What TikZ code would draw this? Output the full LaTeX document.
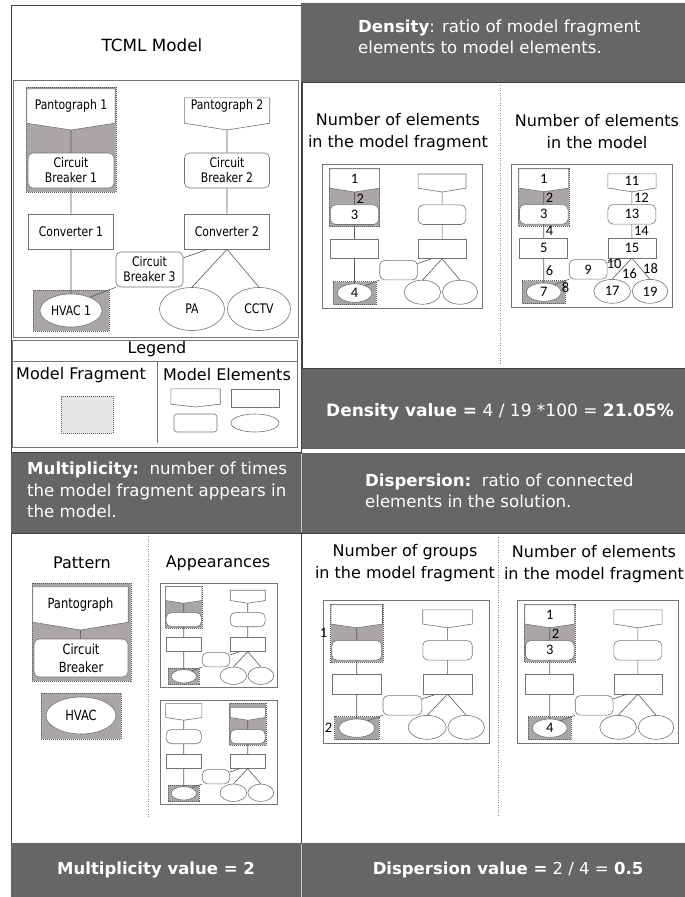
\documentclass[tikz,border=0pt]{standalone}
\usepackage{fontspec}
\setmainfont{DejaVu Sans}
\newfontfamily\elfont{DejaVu Sans}[FakeStretch=0.82]
\newfontfamily\numfont{Carlito}
\usepackage{tikz}
\usetikzlibrary{positioning}
\usetikzlibrary{calc,shapes.geometric}
\definecolor{hdrgray}{RGB}{102,102,102}
\definecolor{fraggray}{RGB}{170,166,166}
\definecolor{leggray}{RGB}{230,230,230}
\tikzset{
  panel/.style = {draw=black!75, fill=white, line width=0.8pt},
  hdrbar/.style = {fill=hdrgray},
  sepline/.style = {draw=black!20, line width=0.8pt},
  hdrtext/.style = {text=white, align=left, inner sep=0pt,
    font=\fontsize{16.6}{21.5}\selectfont},
  valtext/.style = {text=white, inner sep=0pt,
    font=\fontsize{16.5}{20}\selectfont},
  title/.style = {align=center, inner sep=0pt,
    font=\fontsize{16}{22}\selectfont},
  mframe/.style = {draw=black!55, fill=white, line width=0.6pt},% frame of a model
  frag/.style = {draw=black!65, fill=fraggray, inner sep=0pt,
    dash pattern=on 1pt off 1pt, line width=0.6pt},% model fragment
  elem/.style = {draw=black!55, fill=white, inner sep=0pt, line width=0.6pt},
  pgbox/.style = {inner sep=0pt},% pantograph, outline drawn by hand
  cbbox/.style = {elem, rounded corners=5pt},% circuit breaker
  cvbox/.style = {elem},% converter
  hvbox/.style = {elem, ellipse},% hvac, pa, cctv
  conn/.style = {draw=black!65, line width=0.6pt},
  divider/.style = {draw=black!45, dash pattern=on 1pt off 1.5pt, line width=0.5pt},
  ellabel/.style = {align=center, inner sep=0pt,
    font=\elfont\fontsize{13.2}{15}\selectfont},
  num/.style = {inner sep=0pt, font=\numfont\fontsize{14.5}{14.5}\selectfont}
}

% #1 prefix, #2 #3 top left corner, #4 #5 scale, #6 shift of the upper fragment
\newcommand{\tcmlmodel}[6]{%
\begin{scope}[shift={(#2,#3)}, xscale=#4, yscale=#5, transform shape]
  \draw[mframe] (0,0) rectangle (285,257);
  % model fragment
  \node[frag, minimum width=90pt, minimum height=105pt] (#1fa) at (58+#6,59.5) {};
  \node[frag, minimum width=76pt, minimum height=41pt] (#1fb) at (58,230.5) {};
  % left branch
  \node[pgbox, minimum width=88pt, minimum height=34pt] (#1pg1) at (58,26) {};
  \coordinate (#1ap1) at (58,50);
  \draw[elem] (#1pg1.north west) -- (#1pg1.north east) -- (#1pg1.south east)
    -- (#1ap1) -- (#1pg1.south west) -- cycle;
  \node[cbbox, minimum width=86pt, minimum height=35pt] (#1cb1) at (58,90.5) {};
  \node[cvbox, minimum width=85pt, minimum height=35pt] (#1cv1) at (58,151.5) {};
  \node[hvbox, minimum width=62pt, minimum height=33pt] (#1hv1) at (58,230.5) {};
  \node[cbbox, minimum width=67pt, minimum height=35pt] (#1cb3) at (136.5,189.5) {};
  % right branch
  \node[pgbox, minimum width=85pt, minimum height=25pt] (#1pg2) at (214,30.5) {};
  \coordinate (#1ap2) at (214,50);
  \draw[elem] (#1pg2.north west) -- (#1pg2.north east) -- (#1pg2.south east)
    -- (#1ap2) -- (#1pg2.south west) -- cycle;
  \node[cbbox, minimum width=85pt, minimum height=35pt] (#1cb2) at (214,90.5) {};
  \node[cvbox, minimum width=85pt, minimum height=35pt] (#1cv2) at (214,151.5) {};
  \node[hvbox, minimum width=65pt, minimum height=43pt] (#1pa) at (179,229) {};
  \node[hvbox, minimum width=63pt, minimum height=43pt] (#1cc) at (246,229) {};
  \draw[conn] (#1ap1) -- (#1cb1) (#1cb1) -- (#1cv1) (#1cv1) -- (#1hv1)
    (#1ap2) -- (#1cb2) (#1cb2) -- (#1cv2)
    (#1cv2.south) -- (#1pa.north) (#1cv2.south) -- (#1cc.north)
    (#1hv1.35) -- (#1cb3.south west) (#1cb3.19) -- (#1cv2.223);
\end{scope}}

% numbers of the fragment elements
\newcommand{\fragnumbers}[1]{%
  \node[num] (#1n1) at (#1pg1) {1};
  \node[num, anchor=west, xshift=2pt] (#1n2) at ($(#1ap1)!0.5!(#1cb1.north)$) {2};
  \node[num] (#1n3) at (#1cb1) {3};
  \node[num] (#1n4) at (#1hv1) {4};
}

\begin{document}
\begin{tikzpicture}[x=1pt, y=-1pt]
\useasboundingbox (0,0) rectangle (685,897);

% panels
\draw[panel] (11,5) rectangle (301,452);
\fill[hdrbar] (301,3) rectangle (685,82);
\draw[panel] (302,82) rectangle (690,368);
\fill[hdrbar] (302,369) rectangle (685,449);
\fill[hdrbar] (11,453) rectangle (685,533);
\draw[panel] (11,533) rectangle (301,843);
\draw[panel] (301,533) rectangle (690,843);
\fill[hdrbar] (11,843) rectangle (685,897);
\draw[sepline] (301,454) -- (301,532) (301,844) -- (301,897);

% TCML model
\node[title, font=\fontsize{16.8}{22}\selectfont] (tcml) at (152,45) {TCML Model};
\tcmlmodel{m}{13}{80}{1}{1}{0}
\node[ellabel] (mpg1t) at (mpg1) {Pantograph 1};
\node[ellabel] (mpg2t) at (mpg2 |- mpg1) {Pantograph 2};
\node[ellabel] (mcb1t) at (mcb1) {Circuit\\Breaker 1};
\node[ellabel] (mcb2t) at (mcb2) {Circuit\\Breaker 2};
\node[ellabel] (mcb3t) at (mcb3) {Circuit\\Breaker 3};
\node[ellabel] (mcv1t) at (mcv1) {Converter 1};
\node[ellabel] (mcv2t) at (mcv2) {Converter 2};
\node[ellabel] (mhv1t) at (mhv1) {HVAC 1};
\node[ellabel] (mpat) at (mpa) {PA};
\node[ellabel] (mcct) at (mcc) {CCTV};

% legend
\draw[mframe] (12,340) rectangle (297,447);
\draw[mframe] (12,361) -- (297,361) (157,361) -- (157,443);
\node[title] (leg) at (157,349) {Legend};
\node[title] (legf) at (81,375) {Model Fragment};
\node[title] (lege) at (227,375) {Model Elements};
\node[frag, fill=leggray, minimum width=52pt, minimum height=37pt] (lfrag) at (87,414.5) {};
\node[pgbox, minimum width=49pt, minimum height=15pt] (lpg) at (195.5,396.5) {};
\coordinate (lap) at (195.5,407);
\draw[elem] (lpg.north west) -- (lpg.north east) -- (lpg.south east)
  -- (lap) -- (lpg.south west) -- cycle;
\node[cvbox, minimum width=48pt, minimum height=18pt] (lcv) at (255,398) {};
\node[cbbox, rounded corners=3pt, minimum width=43pt, minimum height=18pt] (lcb) at (195.5,423) {};
\node[hvbox, minimum width=48pt, minimum height=18pt] (lhv) at (255,423) {};

% density
\node[hdrtext, anchor=west] (dens) at (358,37)
  {\textbf{Density}: ratio of model fragment\\elements to model elements.};
\draw[divider] (500,85) -- (500,364);
\node[title] (dfrag) at (398,132) {Number of elements\\in the model fragment};
\node[title] (dmod) at (597,132) {Number of elements\\in the model};
\tcmlmodel{d1}{322}{164}{0.561}{0.56}{0}
\fragnumbers{d1}
\tcmlmodel{d2}{511}{164}{0.565}{0.556}{0}
\node[num] (d2n1) at (d2pg1) {1};
\node[num, anchor=west, xshift=2pt] (d2n2) at ($(d2ap1)!0.5!(d2cb1.north)$) {2};
\node[num] (d2n3) at (d2cb1) {3};
\node[num, anchor=west, xshift=2pt] (d2n4) at ($(d2cb1.south)!0.5!(d2cv1.north)$) {4};
\node[num] (d2n5) at (d2cv1) {5};
\node[num, anchor=west, xshift=2pt] (d2n6) at ($(d2cv1.south)!0.5!(d2hv1.north)$) {6};
\node[num] (d2n7) at (d2hv1) {7};
\node[num, anchor=north west] (d2n8) at ($(d2hv1.35)!0.5!(d2cb3.south west)$) {8};
\node[num] (d2n9) at (d2cb3) {9};
\node[num, yshift=-3pt] (d2n10) at ($(d2cb3.19)!0.5!(d2cv2.223)$) {10};
\node[num] (d2n11) at (d2pg2) {11};
\node[num, anchor=west, xshift=2pt] (d2n12) at ($(d2ap2)!0.5!(d2cb2.north)$) {12};
\node[num] (d2n13) at (d2cb2) {13};
\node[num, anchor=west, xshift=2pt] (d2n14) at ($(d2cb2.south)!0.5!(d2cv2.north)$) {14};
\node[num] (d2n15) at (d2cv2) {15};
\node[num, anchor=north west] (d2n16) at ($(d2cv2.south)!0.5!(d2pa.north)$) {16};
\node[num] (d2n17) at (d2pa) {17};
\node[num, anchor=west, xshift=2pt] (d2n18) at ($(d2cv2.south)!0.5!(d2cc.north)$) {18};
\node[num] (d2n19) at (d2cc) {19};
\node[valtext, font=\fontsize{17}{20}\selectfont] (dval) at (500,412)
  {\textbf{Density value =} 4 / 19 *100 = \textbf{21.05\%}};

% multiplicity
\node[hdrtext, anchor=west] (mult) at (27,490)
  {\textbf{Multiplicity:}\ \ number of times\\the model fragment appears in\\the model.};
\draw[divider] (148,536) -- (148,817);
\node[title] (patt) at (82,563) {Pattern};
\node[title] (appr) at (218,563) {Appearances};
\node[frag, minimum width=99pt, minimum height=98pt] (pfa) at (81.5,632) {};
\node[pgbox, minimum width=95pt, minimum height=35pt] (ppg) at (80.5,604.5) {};
\coordinate (pap) at (80.5,630);
\draw[elem] (ppg.north west) -- (ppg.north east) -- (ppg.south east)
  -- (pap) -- (ppg.south west) -- cycle;
\node[cbbox, minimum width=94pt, minimum height=38pt] (pcb) at (81,658) {};
\draw[conn] (pap) -- (pcb);
\node[frag, minimum width=80pt, minimum height=46pt] (pfb) at (81,716) {};
\node[hvbox, minimum width=70pt, minimum height=37pt] (phv) at (81,715.5) {};
\node[ellabel, font=\elfont\fontsize{14}{18}\selectfont] (ppgt) at (ppg) {Pantograph};
\node[ellabel, font=\elfont\fontsize{14}{18}\selectfont] (pcbt) at (pcb) {Circuit\\Breaker};
\node[ellabel, font=\elfont\fontsize{14}{18}\selectfont] (phvt) at (phv) {HVAC};
\tcmlmodel{a1}{160}{583}{0.41}{0.405}{0}
\tcmlmodel{a2}{160}{700}{0.41}{0.405}{156}
\node[valtext] (mval) at (156,870) {\textbf{Multiplicity value = 2}};

% dispersion
\node[hdrtext, anchor=west] (disp) at (365,491)
  {\textbf{Dispersion:}\ \ ratio of connected\\elements in the solution.};
\draw[divider] (498,537) -- (498,817);
\node[title] (dgrp) at (405,563) {Number of groups\\in the model fragment};
\node[title] (delm) at (594,564) {Number of elements\\in the model fragment};
\tcmlmodel{g1}{323}{600}{0.582}{0.556}{0}
\node[num, left=3pt of g1fa] (g1n1) {1};
\node[num, left=2pt of g1fb] (g1n2) {2};
\tcmlmodel{e1}{517}{600}{0.565}{0.556}{0}
\fragnumbers{e1}
\node[valtext] (pval) at (508,870) {\textbf{Dispersion value =} 2 / 4 = \textbf{0.5}};
\end{tikzpicture}
\end{document}
